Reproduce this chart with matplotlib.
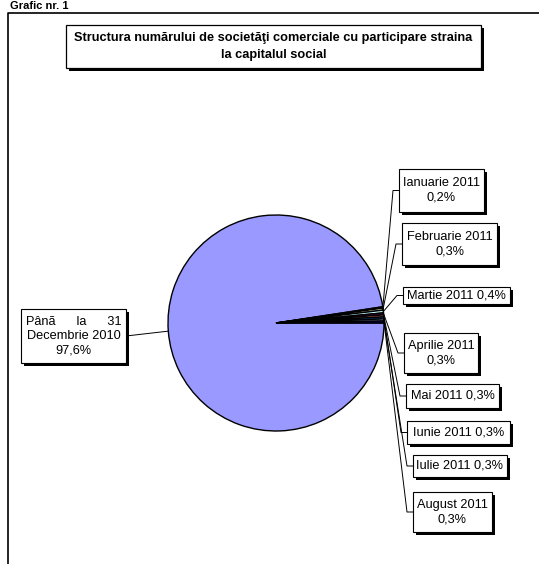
#!/usr/bin/env python3

import numpy as np
import matplotlib.pyplot as plt
from matplotlib.patches import Rectangle

plt.rcParams['font.family'] = ['Liberation Sans', 'DejaVu Sans']

# data
categories = ["Pânã      la      31\nDecembrie 2010", "Ianuarie 2011", "Februarie 2011",
              "Martie 2011", "Aprilie 2011", "Mai 2011", "Iunie 2011",
              "Iulie 2011", "August 2011"]
shares = [97.6, 0.2, 0.3, 0.4, 0.3, 0.3, 0.3, 0.3, 0.3]
colors = ["#9999FF", "#993366", "#FFFFCC", "#CCFFFF", "#660066",
          "#FF8080", "#0066CC", "#CCCCFF", "#000080"]
title = "Structura numărului de societăţi comerciale cu participare straina\nla capitalul social"

W, H = 539, 564
# label boxes in pixel coords: x0, x1, ytop, ybottom, two-line?
boxes = [
    (21, 126, 309, 363, True),
    (399, 484, 169, 212, True),
    (402, 497, 223, 265, True),
    (403, 510, 287, 304, False),
    (404, 478, 333, 373, True),
    (406, 499, 384, 408, False),
    (407, 510, 421, 444, False),
    (413, 507, 455, 477, False),
    (413, 492, 492, 532, True),
]
cx, cy, r = 276, 323, 108


def py(y):
    return H - y


def shadow_box(ax, x0, x1, y0, y1, lw=0.8, off=3):
    ax.add_patch(Rectangle((x0 + off, py(y1) - off), x1 - x0, y1 - y0,
                           facecolor="black", edgecolor="none", zorder=4))
    ax.add_patch(Rectangle((x0, py(y1)), x1 - x0, y1 - y0,
                           facecolor="white", edgecolor="black", lw=lw, zorder=5))


def main():
    fig = plt.figure(figsize=(W / 100, H / 100), dpi=100)
    ax = fig.add_axes([0, 0, 1, 1])

    # outer frame
    ax.plot([8, 8, W + 5], [-5, py(13), py(13)], color="black", lw=1.2)
    ax.text(10, py(1), "Grafic nr. 1", fontsize=8, fontweight="bold",
            ha="left", va="top")

    # title
    shadow_box(ax, 66, 481, 25, 68, lw=0.9)
    ax.text((66 + 481) / 2, py(46.5), title, fontsize=9.2, fontweight="bold",
            ha="center", va="center", zorder=6, linespacing=1.45)

    wedges, _ = ax.pie(shares, colors=colors, startangle=0, counterclock=False,
                       center=(cx, py(cy)), radius=r, frame=True,
                       wedgeprops=dict(edgecolor="black", linewidth=1.0))
    ax.set_xlim(0, W)
    ax.set_ylim(0, H)
    ax.set_aspect("equal")
    ax.axis("off")

    for i, (w, (x0, x1, yt, yb, wrap)) in enumerate(zip(wedges, boxes)):
        ang = np.deg2rad((w.theta1 + w.theta2) / 2)
        ex = cx + r * np.cos(ang)
        ey = py(cy) + r * np.sin(ang)
        ym = py((yt + yb) / 2)
        val = f"{shares[i]:.1f}".replace(".", ",") + "%"
        if i == 0:
            txt = categories[i] + "\n" + val
            ax.plot([ex, x1], [ey, ym], color="black", lw=0.7, zorder=3)
        else:
            txt = categories[i] + ("\n" if wrap else " ") + val
            ax.plot([ex, x0 - 6, x0], [ey, ym, ym], color="black", lw=0.7, zorder=3)
        shadow_box(ax, x0, x1, yt, yb)
        ax.text((x0 + x1) / 2, ym, txt, fontsize=9.2, ha="center", va="center",
                zorder=6, linespacing=1.25)

    fig.savefig("out.png", dpi=100, facecolor="white")


if __name__ == "__main__":
    main()
